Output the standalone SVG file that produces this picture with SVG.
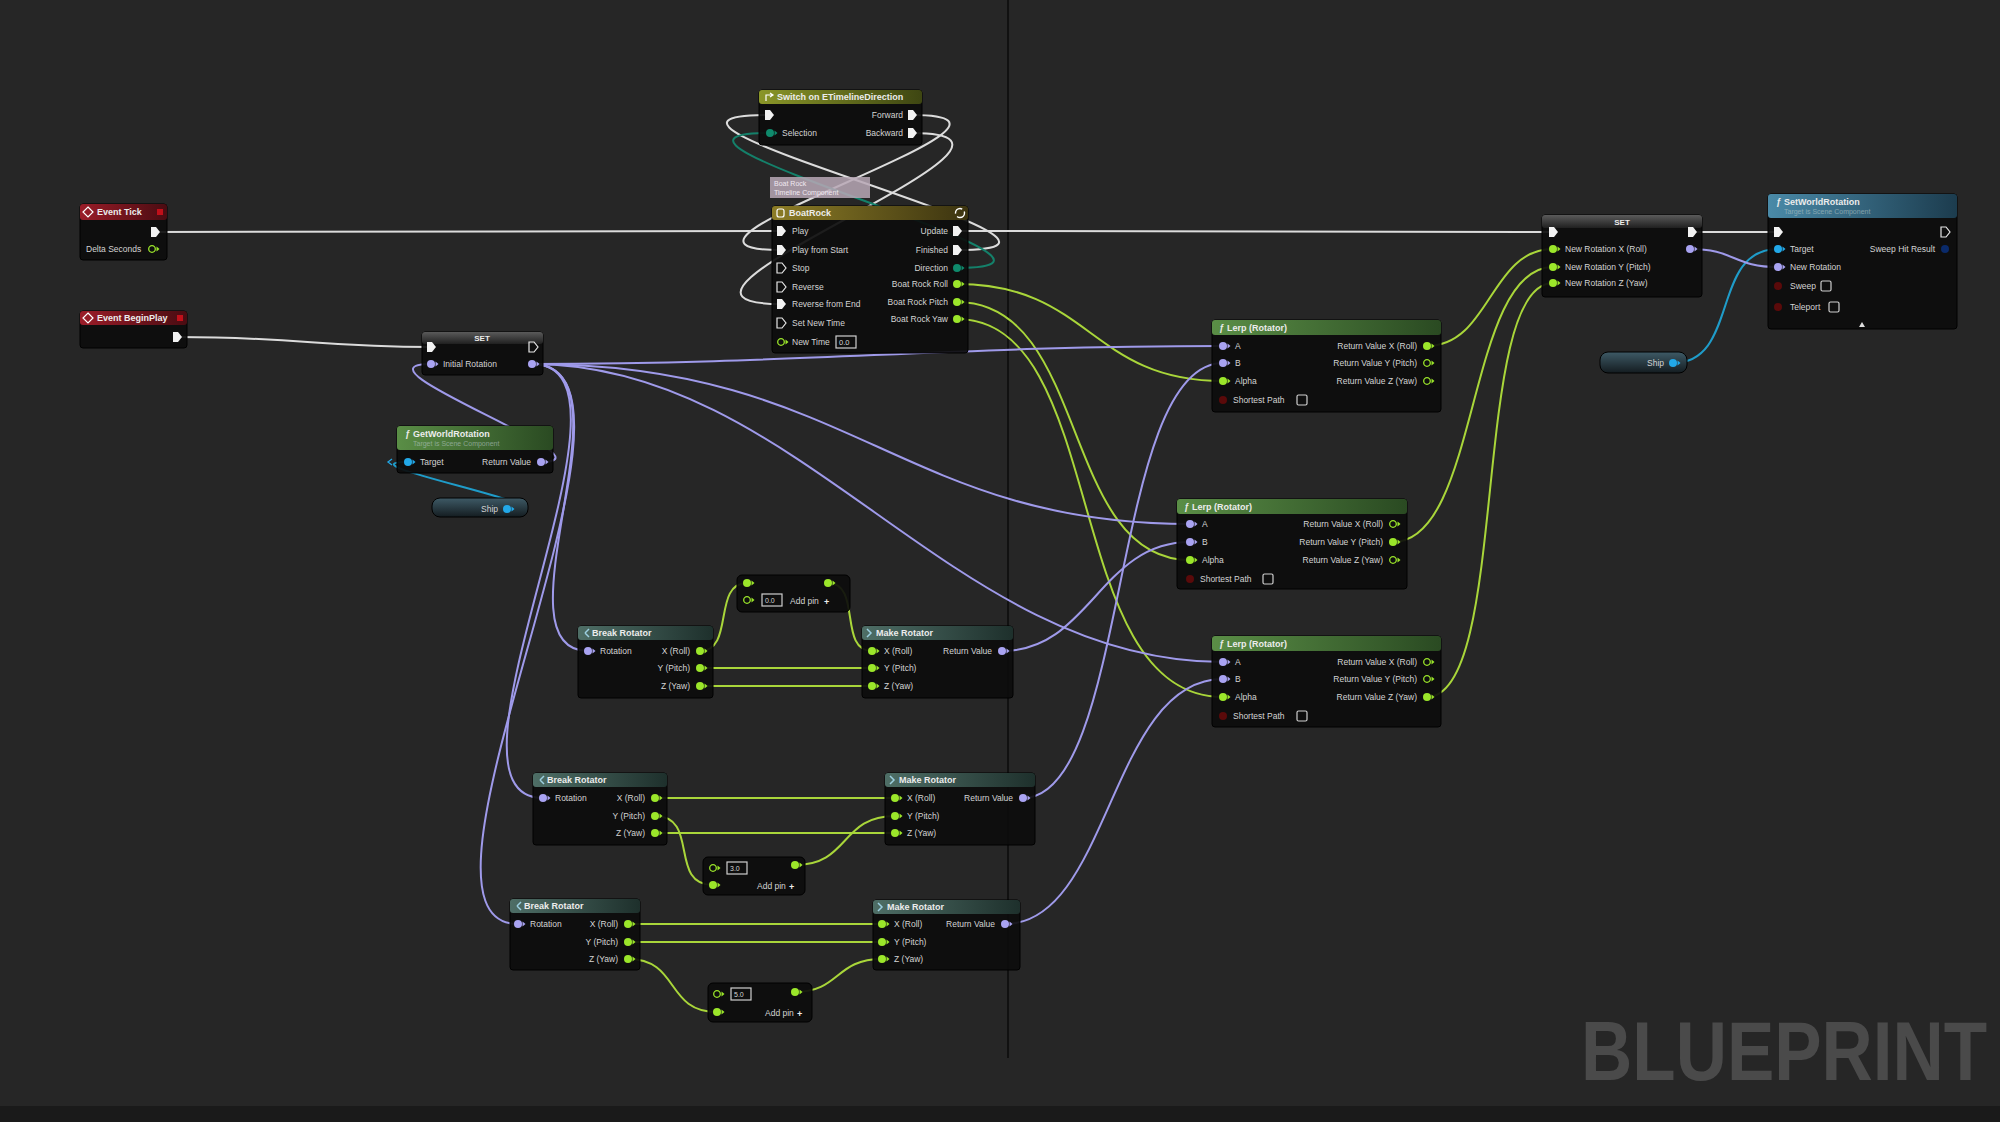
<svg xmlns="http://www.w3.org/2000/svg" xmlns:xlink="http://www.w3.org/1999/xlink" width="2000" height="1122" viewBox="0 0 2000 1122">
<style>
.t{font-family:"Liberation Sans",Arial,sans-serif;font-size:8.5px;fill:#d4d4d4}
.h{font-family:"Liberation Sans",Arial,sans-serif;font-size:9px;fill:#ececec;font-weight:bold}
.sub{font-family:"Liberation Sans",Arial,sans-serif;font-size:7px;fill:#b8c8c8;opacity:.6}
.e{text-anchor:end}
.m{text-anchor:middle}
.body{fill:#0c0c0c;fill-opacity:.92;stroke:#000;stroke-width:1}
.w{fill:none;stroke-width:2}
.ex{stroke:#dcdcdc}
.fl{stroke:#a9d63a}
.ro{stroke:#9f9aea}
.ob{stroke:#1f9cc9}
.by{stroke:#14806a}
.box{fill:none;stroke:#cfcfcf;stroke-width:1.2}
</style>
<defs>
<linearGradient id="gRed" x1="0" y1="0" x2="1" y2="0"><stop offset="0" stop-color="#9a1c28"/><stop offset="1" stop-color="#4a0c12"/></linearGradient>
<linearGradient id="gOlive" x1="0" y1="0" x2="1" y2="0"><stop offset="0" stop-color="#8a9628"/><stop offset="1" stop-color="#3e4612"/></linearGradient>
<linearGradient id="gGold" x1="0" y1="0" x2="1" y2="0"><stop offset="0" stop-color="#8c7c26"/><stop offset="1" stop-color="#3c3410"/></linearGradient>
<linearGradient id="gGray" x1="0" y1="0" x2="0" y2="1"><stop offset="0" stop-color="#5a5a5a"/><stop offset="1" stop-color="#202020"/></linearGradient>
<linearGradient id="gGreen" x1="0" y1="0" x2="1" y2="0"><stop offset="0" stop-color="#5a8e46"/><stop offset="1" stop-color="#2a4a22"/></linearGradient>
<linearGradient id="gBlue" x1="0" y1="0" x2="1" y2="0"><stop offset="0" stop-color="#4a8aa8"/><stop offset="1" stop-color="#1c3c4e"/></linearGradient>
<linearGradient id="gTeal" x1="0" y1="0" x2="1" y2="0"><stop offset="0" stop-color="#4e6e66"/><stop offset="1" stop-color="#1e302c"/></linearGradient>
<linearGradient id="gPill" x1="0" y1="0" x2="0" y2="1"><stop offset="0" stop-color="#3e5a66"/><stop offset="1" stop-color="#141c20"/></linearGradient>
<path id="exF" d="M-4,-5 H1 L5,0 L1,5 H-4 Z" fill="#f2f2f2"/>
<path id="exH" d="M-4,-5 H1 L5,0 L1,5 H-4 Z" fill="none" stroke="#e8e8e8" stroke-width="1.2"/>
<g id="pRot"><circle r="4" fill="#a9a3f2"/><path d="M4.5,-2.5 L7.5,0 L4.5,2.5Z" fill="#a9a3f2"/></g>
<g id="pFl"><circle r="4" fill="#9be62a"/><path d="M4.5,-2.5 L7.5,0 L4.5,2.5Z" fill="#9be62a"/></g>
<g id="pFlH"><circle r="3.3" fill="none" stroke="#9be62a" stroke-width="1.3"/><path d="M4.5,-2.5 L7.5,0 L4.5,2.5Z" fill="#9be62a"/></g>
<g id="pOb"><circle r="4" fill="#22a8e8"/><path d="M4.5,-2.5 L7.5,0 L4.5,2.5Z" fill="#22a8e8"/></g>
<g id="pBy"><circle r="4" fill="#0f8a6c"/><path d="M4.5,-2.5 L7.5,0 L4.5,2.5Z" fill="#0f8a6c"/></g>
<g id="pBo"><circle r="4" fill="#5a0a0a"/></g>
<g id="pSt"><circle r="4" fill="#0a2a6a"/></g>
</defs>

<rect x="0" y="0" width="2000" height="1122" fill="#262626"/>
<rect x="0" y="1106" width="2000" height="16" fill="#1a1a1a"/>
<line x1="1008" y1="0" x2="1008" y2="1058" stroke="#111" stroke-width="2"/>
<text transform="translate(1581,1080) scale(1,1.18)" x="0" y="0" font-family="'Liberation Sans',Arial,sans-serif" font-weight="bold" font-size="71" fill="#4a4a4a">BLUEPRINT</text>

<g id="connectors">
<path class="w ex" d="M155,232 L781,231"/>
<path class="w ex" d="M957,231 L1553,232"/>
<path class="w ex" d="M177,337 C300,337 320,347 431,347"/>
<path class="w ex" d="M1692,232 L1778,232"/>
<path class="w ex" d="M957,250 C1157,250 569,115 769,115"/>
<path class="w ex" d="M912,115 C1082,115 611,250 781,250"/>
<path class="w ex" d="M912,133 C1092,133 601,304 781,304"/>
<path class="w by" d="M957,268 C1137,268 590,133 770,133"/>
<path class="w ro" d="M541,462 C621,462 341,364 431,364"/>
<path class="w ob" d="M507,509 C582,509 333,462 408,462"/>
<path class="w ob" d="M1673,363 C1740,363 1710,249 1778,249"/>
<path class="w ro" d="M1690,249 C1735,249 1733,267 1778,267"/>
<path class="w fl" d="M1427,346 C1490,346 1490,249 1553,249"/>
<path class="w fl" d="M1393,542 C1480,542 1466,267 1553,267"/>
<path class="w fl" d="M1427,697 C1510,697 1470,283 1553,283"/>
<path class="w fl" d="M957,284 C1090,284 1090,381 1223,381"/>
<path class="w fl" d="M957,302 C1090,302 1060,560 1190,560"/>
<path class="w fl" d="M957,319 C1110,319 1060,697 1223,697"/>
<path class="w ro" d="M532,364 C800,364 950,346 1223,346"/>
<path class="w ro" d="M532,364 C850,364 900,524 1190,524"/>
<path class="w ro" d="M532,364 C800,364 950,662 1223,662"/>
<path class="w ro" d="M532,364 C640,364 490,651 588,651"/>
<path class="w ro" d="M532,364 C660,364 420,798 543,798"/>
<path class="w ro" d="M532,364 C680,364 380,924 518,924"/>
<path class="w ro" d="M1002,651 C1090,651 1100,542 1190,542"/>
<path class="w ro" d="M1023,798 C1130,798 1110,363 1223,363"/>
<path class="w ro" d="M1005,924 C1110,924 1110,679 1223,679"/>
<path class="w fl" d="M700,651 C735,651 712,583 747,583"/>
<path class="w fl" d="M828,583 C862,583 838,651 872,651"/>
<path class="w fl" d="M700,668 L872,668"/>
<path class="w fl" d="M700,686 L872,686"/>
<path class="w fl" d="M655,798 L895,798"/>
<path class="w fl" d="M655,833 L895,833"/>
<path class="w fl" d="M655,816 C700,816 668,885 713,885"/>
<path class="w fl" d="M795,865 C850,865 840,816 895,816"/>
<path class="w fl" d="M628,924 L882,924"/>
<path class="w fl" d="M628,942 L882,942"/>
<path class="w fl" d="M628,959 C680,959 665,1012 717,1012"/>
<path class="w fl" d="M795,992 C840,992 835,959 882,959"/>
</g>

<g id="eventTick">
<rect class="body" x="80" y="204" width="87" height="56" rx="3"/>
<rect x="80" y="204" width="87" height="16" rx="3" fill="url(#gRed)"/>
<path d="M88,207 L93,212 L88,217 L83,212Z" fill="none" stroke="#fff" stroke-width="1.2"/>
<text class="h" x="97" y="215">Event Tick</text>
<rect x="157" y="209" width="6" height="6" fill="#c0101a"/>
<use href="#exF" x="155" y="232"/>
<text class="t" x="86" y="252">Delta Seconds</text>
<use href="#pFlH" x="152" y="249"/>
</g>

<g id="eventBeginPlay">
<rect class="body" x="80" y="311" width="107" height="37" rx="3"/>
<rect x="80" y="311" width="107" height="14" rx="3" fill="url(#gRed)"/>
<path d="M88,313 L93,318 L88,323 L83,318Z" fill="none" stroke="#fff" stroke-width="1.2"/>
<text class="h" x="97" y="321">Event BeginPlay</text>
<rect x="177" y="315" width="6" height="6" fill="#c0101a"/>
<use href="#exF" x="177" y="337"/>
</g>

<g id="switchDirection">
<rect class="body" x="759" y="90" width="163" height="55" rx="3"/>
<rect x="759" y="90" width="163" height="14" rx="3" fill="url(#gOlive)"/>
<path d="M766,101 V95 H772 M770,93 L773,95 L770,97" fill="none" stroke="#fff" stroke-width="1.2"/>
<text class="h" x="777" y="100">Switch on ETimelineDirection</text>
<use href="#exF" x="769" y="115"/>
<use href="#pBy" x="770" y="133"/>
<text class="t" x="782" y="136">Selection</text>
<text class="t e" x="903" y="118">Forward</text>
<use href="#exF" x="912" y="115"/>
<text class="t e" x="903" y="136">Backward</text>
<use href="#exF" x="912" y="133"/>
</g>

<g id="tooltip">
<rect x="770" y="177" width="100" height="21" fill="#b8a8b6" fill-opacity=".85"/>
<text class="t" x="774" y="186" style="font-size:7px;fill:#f0e8f0">Boat Rock</text>
<text class="t" x="774" y="195" style="font-size:7px;fill:#f0e8f0">Timeline Component</text>
</g>

<g id="boatRock">
<rect class="body" x="772" y="206" width="196" height="147" rx="3"/>
<rect x="772" y="206" width="196" height="14" rx="3" fill="url(#gGold)"/>
<rect x="777" y="209" width="7" height="8" rx="2" fill="none" stroke="#fff" stroke-width="1.2"/>
<text class="h" x="789" y="216">BoatRock</text>
<circle cx="960" cy="213" r="4.5" fill="none" stroke="#fff" stroke-width="1.4" stroke-dasharray="10 3"/>
<use href="#exF" x="781" y="231"/><text class="t" x="792" y="234">Play</text>
<use href="#exF" x="781" y="250"/><text class="t" x="792" y="253">Play from Start</text>
<use href="#exH" x="781" y="268"/><text class="t" x="792" y="271">Stop</text>
<use href="#exH" x="781" y="287"/><text class="t" x="792" y="290">Reverse</text>
<use href="#exF" x="781" y="304"/><text class="t" x="792" y="307">Reverse from End</text>
<use href="#exH" x="781" y="323"/><text class="t" x="792" y="326">Set New Time</text>
<use href="#pFlH" x="781" y="342"/><text class="t" x="792" y="345">New Time</text>
<rect x="836" y="336" width="20" height="12" class="box"/><text class="t" x="839" y="345" style="font-size:7.5px">0.0</text>
<text class="t e" x="948" y="234">Update</text><use href="#exF" x="957" y="231"/>
<text class="t e" x="948" y="253">Finished</text><use href="#exF" x="957" y="250"/>
<text class="t e" x="948" y="271">Direction</text><use href="#pBy" x="957" y="268"/>
<text class="t e" x="948" y="287">Boat Rock Roll</text><use href="#pFl" x="957" y="284"/>
<text class="t e" x="948" y="305">Boat Rock Pitch</text><use href="#pFl" x="957" y="302"/>
<text class="t e" x="948" y="322">Boat Rock Yaw</text><use href="#pFl" x="957" y="319"/>
</g>

<g id="setInitialRotation">
<rect class="body" x="422" y="332" width="121" height="43" rx="3"/>
<rect x="422" y="332" width="121" height="12" rx="3" fill="url(#gGray)"/>
<text class="h m" x="482" y="341" style="font-size:8px">SET</text>
<use href="#exF" x="431" y="347"/>
<use href="#exH" x="533" y="347"/>
<use href="#pRot" x="431" y="364"/>
<text class="t" x="443" y="367">Initial Rotation</text>
<use href="#pRot" x="532" y="364"/>
</g>

<g id="getWorldRotation">
<rect class="body" x="397" y="426" width="156" height="47" rx="3"/>
<rect x="397" y="426" width="156" height="24" rx="3" fill="url(#gGreen)"/>
<text class="h" x="405" y="437" style="font-style:italic">ƒ</text>
<text class="h" x="413" y="437">GetWorldRotation</text>
<text class="sub" x="413" y="446">Target is Scene Component</text>
<path d="M392,459 L388,462 L392,465" fill="none" stroke="#22a8e8" stroke-width="1.3"/>
<use href="#pOb" x="408" y="462"/>
<text class="t" x="420" y="465">Target</text>
<text class="t e" x="531" y="465">Return Value</text>
<use href="#pRot" x="541" y="462"/>
</g>

<g id="ship1">
<rect x="432" y="498" width="96" height="19" rx="8" fill="url(#gPill)" stroke="#000"/>
<text class="t e" x="498" y="512">Ship</text>
<use href="#pOb" x="507" y="509"/>
</g>

<g id="lerp1">
<rect class="body" x="1212" y="320" width="229" height="92" rx="3"/>
<rect x="1212" y="320" width="229" height="15" rx="3" fill="url(#gGreen)"/>
<text class="h" x="1219" y="331" style="font-style:italic">ƒ</text>
<text class="h" x="1227" y="331">Lerp (Rotator)</text>
<use href="#pRot" x="1223" y="346"/><text class="t" x="1235" y="349">A</text>
<use href="#pRot" x="1223" y="363"/><text class="t" x="1235" y="366">B</text>
<use href="#pFl" x="1223" y="381"/><text class="t" x="1235" y="384">Alpha</text>
<use href="#pBo" x="1223" y="400"/><text class="t" x="1233" y="403">Shortest Path</text>
<rect x="1297" y="395" width="10" height="10" rx="1.5" class="box"/>
<text class="t e" x="1417" y="349">Return Value X (Roll)</text><use href="#pFl" x="1427" y="346"/>
<text class="t e" x="1417" y="366">Return Value Y (Pitch)</text><use href="#pFlH" x="1427" y="363"/>
<text class="t e" x="1417" y="384">Return Value Z (Yaw)</text><use href="#pFlH" x="1427" y="381"/>
</g>

<g id="lerp2">
<rect class="body" x="1177" y="499" width="230" height="90" rx="3"/>
<rect x="1177" y="499" width="230" height="15" rx="3" fill="url(#gGreen)"/>
<text class="h" x="1184" y="510" style="font-style:italic">ƒ</text>
<text class="h" x="1192" y="510">Lerp (Rotator)</text>
<use href="#pRot" x="1190" y="524"/><text class="t" x="1202" y="527">A</text>
<use href="#pRot" x="1190" y="542"/><text class="t" x="1202" y="545">B</text>
<use href="#pFl" x="1190" y="560"/><text class="t" x="1202" y="563">Alpha</text>
<use href="#pBo" x="1190" y="579"/><text class="t" x="1200" y="582">Shortest Path</text>
<rect x="1263" y="574" width="10" height="10" rx="1.5" class="box"/>
<text class="t e" x="1383" y="527">Return Value X (Roll)</text><use href="#pFlH" x="1393" y="524"/>
<text class="t e" x="1383" y="545">Return Value Y (Pitch)</text><use href="#pFl" x="1393" y="542"/>
<text class="t e" x="1383" y="563">Return Value Z (Yaw)</text><use href="#pFlH" x="1393" y="560"/>
</g>

<g id="lerp3">
<rect class="body" x="1212" y="636" width="229" height="91" rx="3"/>
<rect x="1212" y="636" width="229" height="15" rx="3" fill="url(#gGreen)"/>
<text class="h" x="1219" y="647" style="font-style:italic">ƒ</text>
<text class="h" x="1227" y="647">Lerp (Rotator)</text>
<use href="#pRot" x="1223" y="662"/><text class="t" x="1235" y="665">A</text>
<use href="#pRot" x="1223" y="679"/><text class="t" x="1235" y="682">B</text>
<use href="#pFl" x="1223" y="697"/><text class="t" x="1235" y="700">Alpha</text>
<use href="#pBo" x="1223" y="716"/><text class="t" x="1233" y="719">Shortest Path</text>
<rect x="1297" y="711" width="10" height="10" rx="1.5" class="box"/>
<text class="t e" x="1417" y="665">Return Value X (Roll)</text><use href="#pFlH" x="1427" y="662"/>
<text class="t e" x="1417" y="682">Return Value Y (Pitch)</text><use href="#pFlH" x="1427" y="679"/>
<text class="t e" x="1417" y="700">Return Value Z (Yaw)</text><use href="#pFl" x="1427" y="697"/>
</g>

<g id="setNewRotation">
<rect class="body" x="1542" y="215" width="160" height="82" rx="3"/>
<rect x="1542" y="215" width="160" height="13" rx="3" fill="url(#gGray)"/>
<text class="h m" x="1622" y="225" style="font-size:8px">SET</text>
<use href="#exF" x="1553" y="232"/>
<use href="#exF" x="1692" y="232"/>
<use href="#pFl" x="1553" y="249"/><text class="t" x="1565" y="252">New Rotation X (Roll)</text>
<use href="#pFl" x="1553" y="267"/><text class="t" x="1565" y="270">New Rotation Y (Pitch)</text>
<use href="#pFl" x="1553" y="283"/><text class="t" x="1565" y="286">New Rotation Z (Yaw)</text>
<use href="#pRot" x="1690" y="249"/>
</g>

<g id="setWorldRotation">
<rect class="body" x="1768" y="194" width="189" height="135" rx="3"/>
<rect x="1768" y="194" width="189" height="24" rx="3" fill="url(#gBlue)"/>
<text class="h" x="1776" y="205" style="font-style:italic">ƒ</text>
<text class="h" x="1784" y="205">SetWorldRotation</text>
<text class="sub" x="1784" y="214">Target is Scene Component</text>
<use href="#exF" x="1778" y="232"/>
<use href="#exH" x="1945" y="232"/>
<use href="#pOb" x="1778" y="249"/><text class="t" x="1790" y="252">Target</text>
<text class="t e" x="1935" y="252">Sweep Hit Result</text><use href="#pSt" x="1945" y="249"/>
<use href="#pRot" x="1778" y="267"/><text class="t" x="1790" y="270">New Rotation</text>
<use href="#pBo" x="1778" y="286"/><text class="t" x="1790" y="289">Sweep</text>
<rect x="1821" y="281" width="10" height="10" rx="1.5" class="box"/>
<use href="#pBo" x="1778" y="307"/><text class="t" x="1790" y="310">Teleport</text>
<rect x="1829" y="302" width="10" height="10" rx="1.5" class="box"/>
<path d="M1859,327 L1862,322 L1865,327Z" fill="#ddd"/>
</g>

<g id="ship2">
<rect x="1600" y="352" width="87" height="21" rx="8" fill="url(#gPill)" stroke="#000"/>
<text class="t e" x="1664" y="366">Ship</text>
<use href="#pOb" x="1673" y="363"/>
</g>

<g id="breakRotator1">
<rect class="body" x="578" y="626" width="135" height="72" rx="3"/>
<rect x="578" y="626" width="135" height="14" rx="3" fill="url(#gTeal)"/>
<path d="M585,633 L589,629 M585,633 L589,637" stroke="#9ccfe0" stroke-width="1.5"/>
<text class="h" x="592" y="636">Break Rotator</text>
<use href="#pRot" x="588" y="651"/><text class="t" x="600" y="654">Rotation</text>
<text class="t e" x="690" y="654">X (Roll)</text><use href="#pFl" x="700" y="651"/>
<text class="t e" x="690" y="671">Y (Pitch)</text><use href="#pFl" x="700" y="668"/>
<text class="t e" x="690" y="689">Z (Yaw)</text><use href="#pFl" x="700" y="686"/>
</g>
<g id="makeRotator1">
<rect class="body" x="862" y="626" width="151" height="72" rx="3"/>
<rect x="862" y="626" width="151" height="14" rx="3" fill="url(#gTeal)"/>
<path d="M867,629 L871,633 L867,637" fill="none" stroke="#9ccfe0" stroke-width="1.5"/>
<text class="h" x="876" y="636">Make Rotator</text>
<use href="#pFl" x="872" y="651"/><text class="t" x="884" y="654">X (Roll)</text>
<use href="#pFl" x="872" y="668"/><text class="t" x="884" y="671">Y (Pitch)</text>
<use href="#pFl" x="872" y="686"/><text class="t" x="884" y="689">Z (Yaw)</text>
<text class="t e" x="992" y="654">Return Value</text><use href="#pRot" x="1002" y="651"/>
</g>
<g id="multiply1">
<rect class="body" x="737" y="575" width="113" height="37" rx="5"/>
<use href="#pFl" x="747" y="583"/>
<use href="#pFl" x="828" y="583"/>
<use href="#pFlH" x="747" y="600"/>
<rect x="762" y="594" width="20" height="12" class="box"/><text class="t" x="765" y="603" style="font-size:7px">0.0</text>
<text class="t" x="790" y="604">Add pin</text>
<text class="h" x="824" y="605">+</text>
</g>

<g id="breakRotator2">
<rect class="body" x="533" y="773" width="134" height="72" rx="3"/>
<rect x="533" y="773" width="134" height="14" rx="3" fill="url(#gTeal)"/>
<path d="M540,780 L544,776 M540,780 L544,784" stroke="#9ccfe0" stroke-width="1.5"/>
<text class="h" x="547" y="783">Break Rotator</text>
<use href="#pRot" x="543" y="798"/><text class="t" x="555" y="801">Rotation</text>
<text class="t e" x="645" y="801">X (Roll)</text><use href="#pFl" x="655" y="798"/>
<text class="t e" x="645" y="819">Y (Pitch)</text><use href="#pFl" x="655" y="816"/>
<text class="t e" x="645" y="836">Z (Yaw)</text><use href="#pFl" x="655" y="833"/>
</g>
<g id="makeRotator2">
<rect class="body" x="885" y="773" width="150" height="72" rx="3"/>
<rect x="885" y="773" width="150" height="14" rx="3" fill="url(#gTeal)"/>
<path d="M890,776 L894,780 L890,784" fill="none" stroke="#9ccfe0" stroke-width="1.5"/>
<text class="h" x="899" y="783">Make Rotator</text>
<use href="#pFl" x="895" y="798"/><text class="t" x="907" y="801">X (Roll)</text>
<use href="#pFl" x="895" y="816"/><text class="t" x="907" y="819">Y (Pitch)</text>
<use href="#pFl" x="895" y="833"/><text class="t" x="907" y="836">Z (Yaw)</text>
<text class="t e" x="1013" y="801">Return Value</text><use href="#pRot" x="1023" y="798"/>
</g>
<g id="multiply2">
<rect class="body" x="703" y="857" width="102" height="38" rx="5"/>
<use href="#pFlH" x="713" y="868"/>
<rect x="727" y="862" width="20" height="12" class="box"/><text class="t" x="730" y="871" style="font-size:7px">3.0</text>
<use href="#pFl" x="795" y="865"/>
<use href="#pFl" x="713" y="885"/>
<text class="t" x="757" y="889">Add pin</text>
<text class="h" x="789" y="890">+</text>
</g>

<g id="breakRotator3">
<rect class="body" x="510" y="899" width="130" height="71" rx="3"/>
<rect x="510" y="899" width="130" height="14" rx="3" fill="url(#gTeal)"/>
<path d="M517,906 L521,902 M517,906 L521,910" stroke="#9ccfe0" stroke-width="1.5"/>
<text class="h" x="524" y="909">Break Rotator</text>
<use href="#pRot" x="518" y="924"/><text class="t" x="530" y="927">Rotation</text>
<text class="t e" x="618" y="927">X (Roll)</text><use href="#pFl" x="628" y="924"/>
<text class="t e" x="618" y="945">Y (Pitch)</text><use href="#pFl" x="628" y="942"/>
<text class="t e" x="618" y="962">Z (Yaw)</text><use href="#pFl" x="628" y="959"/>
</g>
<g id="makeRotator3">
<rect class="body" x="873" y="900" width="147" height="70" rx="3"/>
<rect x="873" y="900" width="147" height="14" rx="3" fill="url(#gTeal)"/>
<path d="M878,903 L882,907 L878,911" fill="none" stroke="#9ccfe0" stroke-width="1.5"/>
<text class="h" x="887" y="910">Make Rotator</text>
<use href="#pFl" x="882" y="924"/><text class="t" x="894" y="927">X (Roll)</text>
<use href="#pFl" x="882" y="942"/><text class="t" x="894" y="945">Y (Pitch)</text>
<use href="#pFl" x="882" y="959"/><text class="t" x="894" y="962">Z (Yaw)</text>
<text class="t e" x="995" y="927">Return Value</text><use href="#pRot" x="1005" y="924"/>
</g>
<g id="multiply3">
<rect class="body" x="708" y="983" width="104" height="39" rx="5"/>
<use href="#pFlH" x="717" y="994"/>
<rect x="731" y="988" width="20" height="12" class="box"/><text class="t" x="734" y="997" style="font-size:7px">5.0</text>
<use href="#pFl" x="795" y="992"/>
<use href="#pFl" x="717" y="1012"/>
<text class="t" x="765" y="1016">Add pin</text>
<text class="h" x="797" y="1017">+</text>
</g>
</svg>
